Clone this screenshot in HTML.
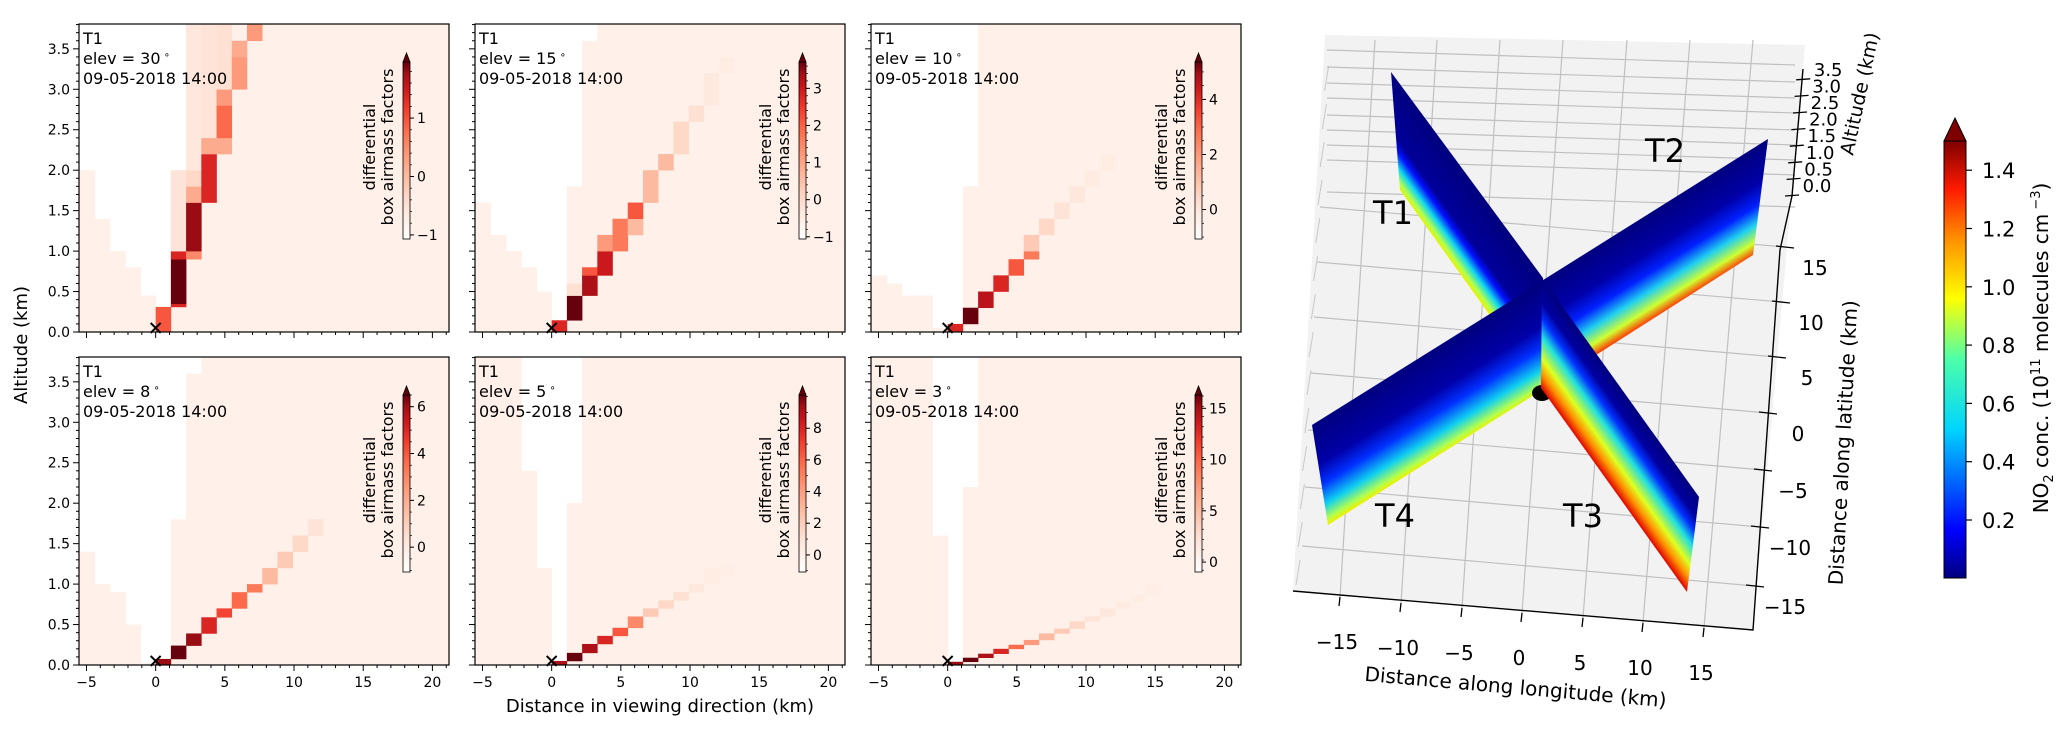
<!DOCTYPE html>
<html><head><meta charset="utf-8"><style>
html,body{margin:0;padding:0;background:#fff;}
svg{display:block;font-family:"DejaVu Sans","Liberation Sans",sans-serif;}
</style></head><body>
<svg id="fig" width="2067" height="734" viewBox="0 0 2067 734" xmlns="http://www.w3.org/2000/svg">
<defs>
 <linearGradient id="redsBar" x1="0" y1="1" x2="0" y2="0">
  <stop offset="0" stop-color="#ffffff"/><stop offset="0.2" stop-color="#fee0d2"/><stop offset="0.35" stop-color="#fcbba1"/>
  <stop offset="0.5" stop-color="#fc9272"/><stop offset="0.62" stop-color="#fb6a4a"/><stop offset="0.74" stop-color="#ef3b2c"/>
  <stop offset="0.85" stop-color="#cb181d"/><stop offset="0.93" stop-color="#a50f15"/><stop offset="1" stop-color="#67000d"/>
 </linearGradient>
 <linearGradient id="jetBar" x1="0" y1="1" x2="0" y2="0">
  <stop offset="0" stop-color="#00007f"/><stop offset="0.11" stop-color="#0000ff"/><stop offset="0.34" stop-color="#00d4ff"/>
  <stop offset="0.5" stop-color="#4cffaa"/><stop offset="0.64" stop-color="#ffff00"/><stop offset="0.78" stop-color="#ff8c00"/>
  <stop offset="0.89" stop-color="#ff1a00"/><stop offset="1" stop-color="#7f0000"/>
 </linearGradient>
 <linearGradient id="gT1" gradientUnits="userSpaceOnUse" x1="1391" y1="72" x2="1340" y2="109">
  <stop offset="0" stop-color="#00007f"/><stop offset="0.55" stop-color="#00009a"/><stop offset="0.66" stop-color="#0010ff"/>
  <stop offset="0.8" stop-color="#10d8f0"/><stop offset="0.92" stop-color="#b0ff50"/><stop offset="1" stop-color="#f0f000"/>
 </linearGradient>
 <linearGradient id="gT3" gradientUnits="userSpaceOnUse" x1="1542" y1="278" x2="1489" y2="316">
  <stop offset="0" stop-color="#00007f"/><stop offset="0.22" stop-color="#0000a0"/><stop offset="0.36" stop-color="#0030ff"/>
  <stop offset="0.52" stop-color="#20e0e0"/><stop offset="0.72" stop-color="#e0ff20"/><stop offset="0.86" stop-color="#ff9000"/><stop offset="1" stop-color="#e00000"/>
 </linearGradient>
 <linearGradient id="gT2" gradientUnits="userSpaceOnUse" x1="1540" y1="282" x2="1589" y2="360">
  <stop offset="0" stop-color="#00007f"/><stop offset="0.35" stop-color="#0000a8"/><stop offset="0.55" stop-color="#0020ff"/>
  <stop offset="0.72" stop-color="#20d0f0"/><stop offset="0.88" stop-color="#d0ff30"/><stop offset="1" stop-color="#ff3000"/>
 </linearGradient>
 <linearGradient id="gT4" gradientUnits="userSpaceOnUse" x1="1312" y1="425" x2="1361" y2="504">
  <stop offset="0" stop-color="#00007f"/><stop offset="0.4" stop-color="#0000a8"/><stop offset="0.6" stop-color="#0030ff"/>
  <stop offset="0.8" stop-color="#10d0f0"/><stop offset="0.94" stop-color="#b0ff50"/><stop offset="1" stop-color="#f0f000"/>
 </linearGradient>
</defs>
<g id="left"></g>
<g id="right"></g>
</svg>
<script>
// ---------- Data: heatmap panels ----------
const panelElev = [30, 15, 10, 8, 5, 3];
const panelCol = [
 [0,1,1,1,1,2,2,2,2,2,3,3,3,4,4,4,4,5,5,6],
 [0,1,1,2,2,3,3,4,5,5,6,7,8,9,10,11],
 [0,1,2,3,4,5,5,6,7,8,9,10],
 [0,1,2,3,4,5,6,7,8,9,10],
 [0,1,2,3,4,5,6,7,8,9,10,11],
 [0,1,2,3,4,5,6,7,8,9,10,11,12,13]
];
const panelZ0 = [
 [0,.31,.35,.9,1.0,.9,1.0,1.6,1.8,2.0,1.6,2.2,2.4,2.2,2.4,2.8,3.0,3.0,3.4,3.6],
 [0,.145,.45,.45,.7,.7,1.0,1.0,1.2,1.4,1.6,2.0,2.2,2.6,2.8,3.2],
 [0,.1,.3,.5,.7,.9,1.0,1.2,1.4,1.6,1.8,2.0],
 [0,.075,.24,.39,.59,.7,.9,1.0,1.2,1.4,1.6],
 [0,.05,.15,.26,.36,.46,.6,.7,.8,.9,1.0,1.1],
 [0,.04,.09,.14,.2,.25,.31,.39,.45,.54,.6,.7,.78,.87]
];
const panelZ1 = [
 [.31,.35,.9,1.0,2.0,1.0,1.6,1.8,2.0,3.8,2.2,2.4,3.8,2.4,2.8,3.0,3.8,3.4,3.6,3.8],
 [.145,.45,.6,.7,.8,1.0,1.2,1.4,1.4,1.6,2.0,2.2,2.6,2.8,3.2,3.4],
 [.1,.3,.5,.7,.9,1.0,1.2,1.4,1.6,1.8,2.0,2.2],
 [.075,.24,.39,.59,.7,.9,1.0,1.2,1.4,1.6,1.8],
 [.05,.15,.26,.36,.46,.6,.7,.8,.9,1.0,1.2,1.25],
 [.04,.09,.14,.2,.25,.31,.39,.45,.54,.6,.7,.78,.87,1.0]
];
const panelVal = [
 [.55,.7,1.0,.7,.1,.4,.9,.3,.15,.08,.7,.3,.1,.3,.5,.35,.12,.35,.3,.35],
 [.7,1.0,.12,.85,.55,.75,.35,.45,.25,.55,.25,.25,.15,.12,.07,.05],
 [.7,1.0,.8,.7,.55,.45,.2,.15,.1,.08,.06,.05],
 [.9,1.0,.9,.7,.6,.5,.45,.25,.2,.15,.1],
 [.85,1.0,.85,.7,.55,.4,.2,.15,.12,.08,.05,.04],
 [.9,1.0,.85,.7,.5,.35,.25,.2,.15,.1,.08,.06,.05,.04]
];
// height of the faint background per 1.1-km column starting at -5.5 km
const panelBgTop = [
 [2.0,1.4,1.0,.8,.45,.3,2.0,3.8],
 [1.6,1.2,1.0,.8,.5,.15,1.8,3.6],
 [.7,.6,.45,.45,.05,.1,1.8,3.8],
 [1.4,1.0,.9,.5,.02,.075,1.8,3.6],
 [3.8,3.8,3.8,2.4,1.2,.05,2.0,3.8],
 [3.8,3.8,3.8,3.8,1.6,.03,2.2,3.8]
];
const cbMin = [-1.07,-1.06,-1.07,-1.06,-1.08,-0.97];
const cbMax = [1.96,3.71,5.36,6.5,10.1,16.3];
const cbTicks = [[-1,0,1],[-1,0,1,2,3],[0,2,4],[0,2,4,6],[0,2,4,6,8],[0,5,10,15]];
const xTicks = [-5,0,5,10,15,20];
const yTicks = [0,0.5,1.0,1.5,2.0,2.5,3.0,3.5];
const colWidth = 1.1;

const NS = "http://www.w3.org/2000/svg";
function mk(tag, attrs, parent){ const e=document.createElementNS(NS,tag); for(const k in attrs) e.setAttribute(k,attrs[k]); if(parent) parent.appendChild(e); return e; }
const redStops = [[255,245,240],[254,224,210],[252,187,161],[252,146,114],[251,106,74],[239,59,44],[203,24,29],[165,15,21],[103,0,13]];
function reds(v){ v=Math.max(0,Math.min(1,v)); const p=v*8, i=Math.min(7,Math.floor(p)), f=p-i; const a=redStops[i], b=redStops[i+1];
 return `rgb(${Math.round(a[0]+(b[0]-a[0])*f)},${Math.round(a[1]+(b[1]-a[1])*f)},${Math.round(a[2]+(b[2]-a[2])*f)})`; }

const PW=370, PH=308, XMIN=-5.54, XMAX=21.2, ZMAX=3.807;
const lefts=[79,475,871], tops=[24,357];
const left = document.getElementById('left');
for(let p=0;p<6;p++){
 const L=lefts[p%3], T=tops[Math.floor(p/3)];
 const xs = km => L + (km-XMIN)*PW/(XMAX-XMIN);
 const ys = z => T + PH - z*PH/ZMAX;
 const g = mk('g',{},left);
 
 
 const cid='clip'+p;
 const cp=mk('clipPath',{id:cid},g); mk('rect',{x:L,y:T,width:PW,height:PH},cp);
 const cg=mk('g',{'clip-path':`url(#${cid})`},g);
 mk('rect',{x:L,y:T,width:PW,height:PH,fill:'#fff'},cg);
 const bg=reds(0.03);
 panelBgTop[p].forEach((h,j)=>{ const x0=-5.5+j*colWidth;
  const r=mk('rect',{x:xs(x0),y:ys(h),width:xs(x0+colWidth)-xs(x0)+0.5,height:ys(0)-ys(h),fill:bg},cg);
    });
 const xr=-5.5+panelBgTop[p].length*colWidth;
 mk('rect',{x:xs(xr),y:T,width:L+PW-xs(xr),height:PH,fill:bg},cg);
 for(let i=0;i<panelCol[p].length;i++){
  const x0=panelCol[p][i]*colWidth;
  const r=mk('rect',{x:xs(x0),y:ys(panelZ1[p][i]),width:xs(x0+colWidth)-xs(x0)+0.3,height:ys(panelZ0[p][i])-ys(panelZ1[p][i])+0.3,fill:reds(panelVal[p][i])},cg);
   
 }
 const mx=xs(0), my=ys(0.05);
 const m=mk('path',{d:`M${mx-5} ${my-5}L${mx+5} ${my+5}M${mx-5} ${my+5}L${mx+5} ${my-5}`,stroke:'#000','stroke-width':2},g);
  
 const sp=mk('rect',{x:L,y:T,width:PW,height:PH,fill:'none',stroke:'#000','stroke-width':1.2},g);
  
 for(let k=-5;k<=21;k++){ const major=k%5===0; const x=xs(k);
  mk('line',{x1:x,y1:T+PH,x2:x,y2:T+PH+(major?6:3),stroke:'#000','stroke-width':1},g); }
 if(p>=3){ xTicks.forEach(v=>{ const t=mk('text',{x:xs(v),y:T+PH+22,'text-anchor':'middle','font-size':14},g); t.textContent=v<0?'\u2212'+(-v):v;
    }); }
 for(let k=0;k<=38;k++){ const z=k/10, major=k%5===0, y=ys(z);
  mk('line',{x1:L,y1:y,x2:L-(major?6:3),y2:y,stroke:'#000','stroke-width':1},g); }
 if(p%3===0){ yTicks.forEach(v=>{ const t=mk('text',{x:L-9,y:ys(v)+5,'text-anchor':'end','font-size':14},g); t.textContent=v.toFixed(1);
    }); }
 const ann=mk('text',{x:L+4,y:T+20,'font-size':16},g);
  
 const l1=mk('tspan',{x:L+4,y:T+20},ann); l1.textContent='T1';
 const l2=mk('tspan',{x:L+4,y:T+40},ann); l2.textContent='elev = '+panelElev[p];
 const dg=mk('tspan',{dy:-6,'font-size':10},ann); dg.textContent=' \u2218';
 const l3=mk('tspan',{x:L+4,y:T+60},ann); l3.textContent='09-05-2018 14:00';
 const cbx=L+324, cbw=7, cbt=T+38, cbb=T+215;
 const cbg=mk('g',{},g);  
 mk('rect',{x:cbx,y:cbt,width:cbw,height:cbb-cbt,fill:'url(#redsBar)',stroke:'#000','stroke-width':0.8},cbg);
 mk('path',{d:`M${cbx} ${cbt}L${cbx+cbw/2} ${T+29}L${cbx+cbw} ${cbt}Z`,fill:'#67000d',stroke:'#000','stroke-width':0.8},cbg);
 const cy=v=>cbb-(v-cbMin[p])/(cbMax[p]-cbMin[p])*(cbb-cbt);
 cbTicks[p].forEach(v=>{ const y=cy(v); mk('line',{x1:cbx+cbw,y1:y,x2:cbx+cbw+4,y2:y,stroke:'#000'},cbg);
  const t=mk('text',{x:cbx+cbw+7,y:y+5,'font-size':14},cbg); t.textContent=v<0?'\u2212'+(-v):v;
    });
 for(let v=Math.ceil(cbMin[p]*5)/5; v<=cbMax[p]; v+= (cbMax[p]>9?1:(cbMax[p]>4?0.5:0.2))){ const y=cy(v); mk('line',{x1:cbx+cbw,y1:y,x2:cbx+cbw+2,y2:y,stroke:'#000','stroke-width':0.7},cbg); }
 const cl1=mk('text',{x:0,y:0,'font-size':16,'text-anchor':'middle',transform:`translate(${L+296},${T+123}) rotate(-90)`},cbg); cl1.textContent='differential';
  
 const cl2=mk('text',{x:0,y:0,'font-size':16,'text-anchor':'middle',transform:`translate(${L+314},${T+123}) rotate(-90)`},cbg); cl2.textContent='box airmass factors';
  
}
const xl=mk('text',{x:660,y:712,'font-size':18,'text-anchor':'middle'},left); xl.textContent='Distance in viewing direction (km)';
 
const yl=mk('text',{x:0,y:0,'font-size':18,'text-anchor':'middle',transform:'translate(27,345) rotate(-90)'},left); yl.textContent='Altitude (km)';
 

// ---------- 3D panel ----------
const lonTicks=[-15,-10,-5,0,5,10,15];
const latTicks=[15,10,5,0,-5,-10,-15];
const altTicks=[0.0,0.5,1.0,1.5,2.0,2.5,3.0,3.5];
const no2Ticks=[0.2,0.4,0.6,0.8,1.0,1.2,1.4];
const R=document.getElementById('right');
const pane=mk('polygon',{points:'1325,35 1805,45 1753,630 1293,591',fill:'#f2f2f2'},R);
 
for(let i=0;i<14;i++){ mk('line',{x1:1296+i*2.2,y1:585-i*38,x2:1300+i*2.2,y2:560-i*38,stroke:'#c8c8c8','stroke-width':1},R); }
[50,67,83,98,115,130,145,160,192].forEach(y=>{ const l=mk('line',{x1:1327,y1:y,x2:1795,y2:y+15,stroke:'#c0c0c0','stroke-width':1.2},R);
   });
const lonBot=[[1340,597],[1401,603],[1462,608],[1522,613],[1583,618],[1643,623],[1704,628]];
const lonTop=[[1375,40],[1437,40],[1500,40],[1563,40],[1627,40],[1690,40],[1753,40]];
lonTicks.forEach((v,i)=>{ const l=mk('line',{x1:lonBot[i][0],y1:lonBot[i][1],x2:lonTop[i][0],y2:lonTop[i][1],stroke:'#c0c0c0','stroke-width':1.2},R);
   });
const latR=[[1785,247],[1781,302],[1777,357],[1768,413],[1763,470],[1760,527],[1755,586]];
latTicks.forEach((v,i)=>{ const l=mk('line',{x1:latR[i][0],y1:latR[i][1],x2:1320-i*3,y2:latR[i][1]-40,stroke:'#c0c0c0','stroke-width':1.2},R);
   });
const pT1=mk('polygon',{points:'1391,72 1543,278 1542,388 1400,190',fill:'url(#gT1)'},R);  
const pT2=mk('polygon',{points:'1540,282 1768,139 1753,255 1541,390',fill:'url(#gT2)'},R);  
const pT4=mk('polygon',{points:'1312,425 1541,282 1542,390 1328,525',fill:'url(#gT4)'},R);  
const dot=mk('ellipse',{cx:1542,cy:393,rx:10,ry:8,fill:'#000'},R);  
const pT3=mk('polygon',{points:'1542,278 1699,497 1687,592 1541,388',fill:'url(#gT3)'},R);  
mk('polyline',{points:'1293,591 1753,630 1780,250 1792,196 1803,69',fill:'none',stroke:'#000','stroke-width':1.4},R);
lonTicks.forEach((v,i)=>{ mk('line',{x1:lonBot[i][0],y1:lonBot[i][1],x2:lonBot[i][0]-1,y2:lonBot[i][1]+9,stroke:'#000','stroke-width':1.3},R);
 const t=mk('text',{x:lonBot[i][0]-3,y:lonBot[i][1]+52,'font-size':20,'text-anchor':'middle'},R); t.textContent=v<0?'\u2212'+(-v):v;
   });
latTicks.forEach((v,i)=>{ mk('line',{x1:latR[i][0]-9,y1:latR[i][1]-1,x2:latR[i][0]+9,y2:latR[i][1]+1,stroke:'#000','stroke-width':1.3},R);
 const t=mk('text',{x:latR[i][0]+30,y:latR[i][1]+28,'font-size':20,'text-anchor':'middle'},R); t.textContent=v<0?'\u2212'+(-v):v;
   });
altTicks.forEach((v,i)=>{ const y=196-i*16.6, x=1792+i*1.6; mk('line',{x1:x-7,y1:y,x2:x+7,y2:y-1,stroke:'#000','stroke-width':1.3},R);
 const t=mk('text',{x:x+25,y:y-4,'font-size':18,'text-anchor':'middle'},R); t.textContent=v.toFixed(1);
   });
const a1=mk('text',{x:0,y:0,'font-size':20,'text-anchor':'middle',transform:'translate(1515,694) rotate(5)'},R); a1.textContent='Distance along longitude (km)';
 
const a2=mk('text',{x:0,y:0,'font-size':20,'text-anchor':'middle',transform:'translate(1850,443) rotate(-87)'},R); a2.textContent='Distance along latitude (km)';
 
const a3=mk('text',{x:0,y:0,'font-size':19,'text-anchor':'middle',transform:'translate(1866,95) rotate(-78)'},R); a3.textContent='Altitude (km)';
 
[['T1',1393,224],['T2',1665,162],['T3',1583,527],['T4',1395,527]].forEach(d=>{ const t=mk('text',{x:d[1],y:d[2],'font-size':32,'text-anchor':'middle'},R); t.textContent=d[0];
   });
const cb=mk('g',{},R);  
const ny=v=>520-(v-0.2)*291.5;
mk('rect',{x:1944,y:141,width:22,height:578-141,fill:'url(#jetBar)',stroke:'#000','stroke-width':1},cb);
mk('path',{d:'M1944 141L1955 118L1966 141Z',fill:'#7f0000',stroke:'#000','stroke-width':1},cb);
no2Ticks.forEach(v=>{ const y=ny(v); mk('line',{x1:1966,y1:y,x2:1972,y2:y,stroke:'#000','stroke-width':1.2},cb);
 const t=mk('text',{x:1982,y:y+8,'font-size':21},cb); t.textContent=v.toFixed(1);
   });
const ct=mk('text',{x:0,y:0,'font-size':20,'text-anchor':'middle',transform:'translate(2048,348) rotate(-90)'},cb);
 
ct.innerHTML='NO<tspan font-size="13" dy="5">2</tspan><tspan dy="-5"> conc. (10</tspan><tspan font-size="13" dy="-8">11</tspan><tspan dy="8"> molecules cm</tspan><tspan font-size="13" dy="-8"> \u22123</tspan><tspan dy="8">)</tspan>';
</script>
</body></html>
